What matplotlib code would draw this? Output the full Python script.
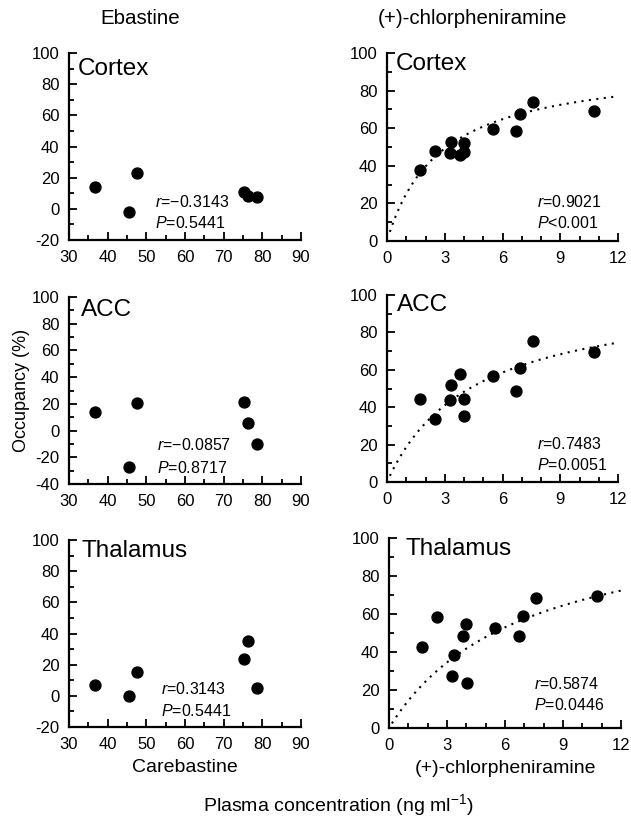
import matplotlib
matplotlib.use("Agg")
import matplotlib.pyplot as plt
import numpy as np
from matplotlib.ticker import MultipleLocator

plt.rcParams['font.family'] = ['Liberation Sans', 'DejaVu Sans']
plt.rcParams['axes.unicode_minus'] = False
plt.rcParams['mathtext.fontset'] = 'custom'
plt.rcParams['mathtext.rm'] = 'Liberation Sans'
plt.rcParams['mathtext.it'] = 'Liberation Sans:italic'

# ---------------- data ----------------
regions = ["Cortex", "ACC", "Thalamus"]

# Ebastine (carebastine plasma conc.)
ebastine_x = [36.6, 45.5, 47.5, 75.3, 76.4, 78.5]
ebastine_cortex = [14.3, -1.8, 23.3, 10.6, 8.5, 7.4]
ebastine_acc = [14.1, -27.0, 20.8, 21.5, 5.8, -10.4]
ebastine_thalamus = [7.1, 0.1, 15.0, 23.6, 34.9, 5.0]
ebastine_stats = [("−0.3143", "=0.5441"), ("−0.0857", "=0.8717"), ("0.3143", "=0.5441")]

# (+)-chlorpheniramine
chlor_x = [1.70, 2.48, 3.26, 3.34, 3.81, 3.98, 4.02, 5.49, 6.72, 6.93, 7.58, 10.74]
chlor_cortex = [37.8, 48.0, 46.7, 52.6, 45.5, 47.6, 52.0, 59.5, 58.6, 67.7, 74.2, 68.9]
chlor_acc = [44.3, 33.6, 44.1, 51.8, 57.7, 44.6, 35.4, 56.6, 48.8, 60.7, 75.5, 69.6]
chlor_thalamus = [42.5, 58.4, 27.2, 38.6, 48.6, 54.9, 23.7, 52.6, 48.6, 58.8, 68.4, 69.6]
chlor_stats = [("0.9021", "<0.001"), ("0.7483", "=0.0051"), ("0.5874", "=0.0446")]

# Emax model fit parameters (Emax, EC50)
chlor_fit_emax = [94.8, 102.4, 113.9]
chlor_fit_ec50 = [2.78, 4.49, 6.9]

ebastine_ylims = [(-20, 100), (-40, 100), (-20, 100)]

W, H = 631, 819
fig = plt.figure(figsize=(W / 100, H / 100), dpi=100)

def rect(x0, y0, x1, y1):
    return [x0 / W, 1 - y1 / H, (x1 - x0) / W, (y1 - y0) / H]

left_boxes = [(69, 53, 301, 240), (69, 297, 301, 484), (69, 540, 301, 727)]
right_boxes = [(387, 53, 618, 241), (387, 295, 618, 482), (389, 538, 621, 728)]

ebastine_y = [ebastine_cortex, ebastine_acc, ebastine_thalamus]
chlor_y = [chlor_cortex, chlor_acc, chlor_thalamus]

left_label_pos = [(0.036, 0.915), (0.052, 0.93), (0.055, 0.94)]
right_label_pos = [(0.04, 0.94), (0.045, 0.946), (0.073, 0.94)]
left_stat_pos = [(0.37, 0.205, 0.089), (0.378, 0.208, 0.084), (0.397, 0.205, 0.083)]
right_stat_pos = [(0.65, 0.21, 0.094), (0.65, 0.205, 0.089), (0.625, 0.233, 0.119)]

TICK_FS = 12
LABEL_FS = 17.5
STAT_FS = 11.5
AXLABEL_FS = 14
YLABEL_FS = 13

def style(ax):
    for s in ["top", "right"]:
        ax.spines[s].set_visible(False)
    for s in ["left", "bottom"]:
        ax.spines[s].set_linewidth(1.6)
    ax.tick_params(which="both", direction="in", width=1.3, labelsize=TICK_FS, pad=7)
    ax.tick_params(which="major", length=6)
    ax.tick_params(which="minor", length=3.5)

for i in range(3):
    ax = fig.add_axes(rect(*left_boxes[i]))
    ax.scatter(ebastine_x, ebastine_y[i], s=62, color="black", zorder=3, clip_on=False)
    ax.set_xlim(30, 90)
    ax.set_ylim(*ebastine_ylims[i])
    ax.xaxis.set_major_locator(MultipleLocator(10))
    ax.xaxis.set_minor_locator(MultipleLocator(5))
    ax.yaxis.set_major_locator(MultipleLocator(20))
    ax.yaxis.set_minor_locator(MultipleLocator(10))
    style(ax)
    lx, ly = left_label_pos[i]
    ax.text(lx, ly, regions[i], transform=ax.transAxes, fontsize=LABEL_FS, va="center", ha="left")
    sx, sy1, sy2 = left_stat_pos[i]
    r, p = ebastine_stats[i]
    ax.text(sx, sy1, r"$\mathit{r}$=" + r, transform=ax.transAxes, fontsize=STAT_FS, va="center", ha="left")
    ax.text(sx, sy2, r"$\mathit{P}$" + p, transform=ax.transAxes, fontsize=STAT_FS, va="center", ha="left")
    if i == 2:
        ax.set_xlabel("Carebastine", fontsize=AXLABEL_FS, labelpad=5)
    if i == 1:
        ax.set_ylabel("Occupancy (%)", fontsize=YLABEL_FS, labelpad=1)

for i in range(3):
    ax = fig.add_axes(rect(*right_boxes[i]))
    ax.scatter(chlor_x, chlor_y[i], s=62, color="black", zorder=3, clip_on=False)
    xx = np.linspace(0.15, 12, 200)
    yy = chlor_fit_emax[i] * xx / (chlor_fit_ec50[i] + xx)
    ax.plot(xx, yy, color="black", lw=1.5, linestyle=(0, (1, 2.6)))
    ax.set_xlim(0, 12)
    ax.set_ylim(0, 100)
    ax.xaxis.set_major_locator(MultipleLocator(3))
    ax.xaxis.set_minor_locator(MultipleLocator(1))
    ax.yaxis.set_major_locator(MultipleLocator(20))
    ax.yaxis.set_minor_locator(MultipleLocator(10))
    style(ax)
    lx, ly = right_label_pos[i]
    ax.text(lx, ly, regions[i], transform=ax.transAxes, fontsize=LABEL_FS, va="center", ha="left")
    sx, sy1, sy2 = right_stat_pos[i]
    r, p = chlor_stats[i]
    ax.text(sx, sy1, r"$\mathit{r}$=" + r, transform=ax.transAxes, fontsize=STAT_FS, va="center", ha="left")
    ax.text(sx, sy2, r"$\mathit{P}$" + p, transform=ax.transAxes, fontsize=STAT_FS, va="center", ha="left")
    if i == 2:
        ax.set_xlabel("(+)-chlorpheniramine", fontsize=AXLABEL_FS, labelpad=5)

fig.text(140 / W, 1 - 18 / H, "Ebastine", fontsize=14.8, ha="center", va="center")
fig.text(472 / W, 1 - 18 / H, "(+)-chlorpheniramine", fontsize=14.8, ha="center", va="center")
fig.text(338 / W, 1 - 805 / H, r"Plasma concentration (ng ml$^{-1}$)", fontsize=AXLABEL_FS, ha="center", va="center")

fig.savefig("out.png", dpi=100)
